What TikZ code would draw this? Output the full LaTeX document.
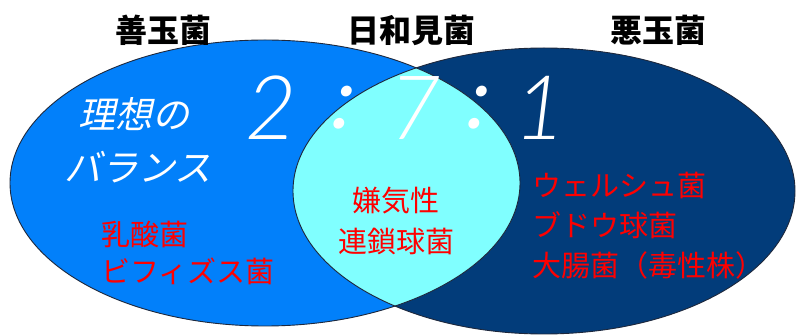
\documentclass[tikz,border=0pt]{standalone}
\usepackage{fontspec}
\newfontfamily\jp{Noto Sans CJK JP}
\newfontfamily\jpit{Noto Sans CJK JP}[FakeSlant=0.22]
\newfontfamily\numfont{Lato Light Italic}
\newfontfamily\colfont{Lato Italic}[FakeSlant=0.12]
\definecolor{goodblue}{RGB}{2,128,250}
\definecolor{badnavy}{RGB}{2,60,122}
\definecolor{midcyan}{RGB}{128,255,255}
\definecolor{outline}{RGB}{30,40,60}
\definecolor{redtext}{RGB}{255,0,0}
\tikzset{
  header/.style={font=\jp\bfseries\fontsize{32}{32}\selectfont, text=black, inner sep=0pt},
  ideal/.style={font=\jpit\fontsize{37}{37}\selectfont, text=white, inner sep=0pt, anchor=west},
  ratio/.style={font=\numfont\fontsize{89}{89}\selectfont, text=white, inner sep=0pt},
  ratiocol/.style={font=\colfont\fontsize{86}{86}\selectfont, text=white, inner sep=0pt},
  germ/.style={font=\jp\fontsize{29}{29}\selectfont, text=redtext, inner sep=0pt, anchor=west},
  germc/.style={font=\jp\fontsize{29}{29}\selectfont, text=redtext, inner sep=0pt},
  ring/.style={draw=outline, line width=0.9pt}
}
\begin{document}
\begin{tikzpicture}[x=1pt,y=-1pt]
\path[use as bounding box, fill=white] (0,0) rectangle (806,336);
% ellipses
\fill[goodblue] (265,183) ellipse [x radius=255pt, y radius=143pt];
\fill[badnavy] (544,191) ellipse [x radius=251pt, y radius=143pt];
\begin{scope}
  \clip (265,183) ellipse [x radius=255pt, y radius=143pt];
  \fill[midcyan] (544,191) ellipse [x radius=251pt, y radius=143pt];
\end{scope}
\draw[ring] (265,183) ellipse [x radius=255pt, y radius=143pt];
\draw[ring] (544,191) ellipse [x radius=251pt, y radius=143pt];
% headers
\node[header] (hgood) at (163,30) {善玉菌};
\node[header] (hmid) at (411,30) {日和見菌};
\node[header] (hbad) at (658,30) {悪玉菌};
% ideal balance
\node[ideal] (ideal1) at (78,114) {理想の};
\node[ideal] (ideal2) at (64,167) {バランス};
% ratio
\node[ratio] (r2) at (271,108) {2};
\node[ratiocol] (c1) at (341,108) {:};
\node[ratio] (r7) at (415,108) {7};
\node[ratiocol] (c2) at (476,108) {:};
\node[ratio] (r1) at (540,108) {1};
% germs
\node[germ] (lact) at (101,234) {乳酸菌};
\node[germ] (bifi) at (101,271) {ビフィズス菌};
\node[germc] (anae1) at (396,201) {嫌気性};
\node[germc] (anae2) at (396,241) {連鎖球菌};
\node[germ] (welch) at (532,185) {ウェルシュ菌};
\node[germ] (staph) at (532,225) {ブドウ球菌};
\node[germ] (ecoli) at (532,265) {大腸菌（毒性株）};
\end{tikzpicture}
\end{document}
